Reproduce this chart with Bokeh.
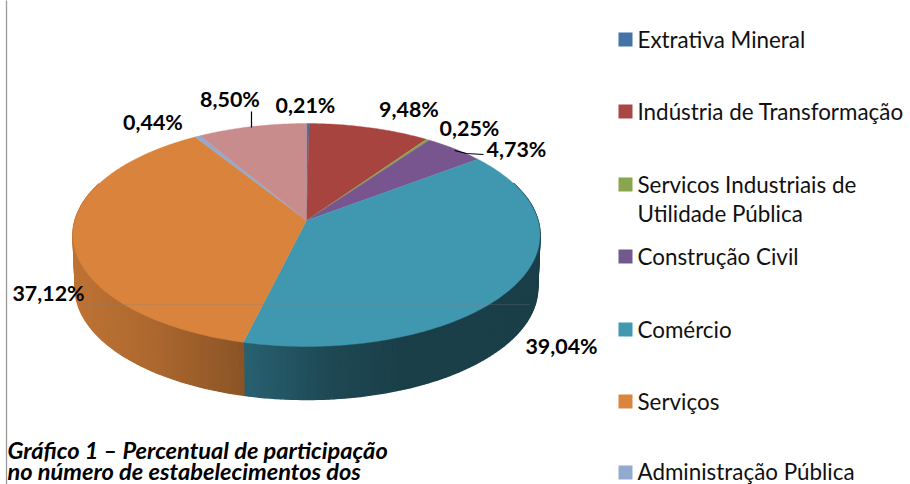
import numpy as np
from bokeh.plotting import figure
from bokeh.core.properties import value
from bokeh.embed import file_html
from bokeh.resources import INLINE

slice_values = [0.21, 9.48, 0.25, 4.73, 39.04, 37.12, 0.44, 8.50]
slice_colors = ["#4573A7", "#A8443F", "#89A54E", "#78558F", "#4098B0", "#D9833C", "#93A9CF", "#C98C8D"]
legend_names = ["Extrativa Mineral", "Indústria de Transformação", "Servicos Industriais de",
                "Construção Civil", "Comércio", "Serviços", "Administração Pública"]
legend_second_line = "Utilidade Pública"
legend_colors = ["#4573A7", "#AA4643", "#89A54E", "#71588F", "#4198AF", "#DB843D", "#93A9CF"]
caption = ["Gráfico 1 – Percentual de participação", "no número de estabelecimentos dos"]

FONT = "Lato"
CX, CY, KX, KY, P, DEPTH = 307.0, 221.0, 231.5, 109.6, 0.13, 53.0


def project(theta):
    X, Y = np.sin(theta), np.cos(theta)
    d = 1 + P * Y
    return CX + KX * X / d, CY - KY * Y / d


def to_rgb(h):
    return tuple(int(h[i:i + 2], 16) for i in (1, 3, 5))


p = figure(width=910, height=484, x_range=(1, 911), y_range=(485, 1),
           output_backend="svg", toolbar_location=None, min_border=0)
p.axis.visible = False
p.grid.visible = False
p.outline_line_color = None

total = sum(slice_values)
edges = np.concatenate([[0], np.cumsum(slice_values)]) / total * 2 * np.pi

# frame line
p.line([7, 7], [0, 486], line_color="#9A9A9A", line_width=1.3)

# side wall
sx, sy, sc = [], [], []
for i, c in enumerate(slice_colors):
    n = max(2, int((edges[i + 1] - edges[i]) / 0.02))
    th = np.linspace(edges[i], edges[i + 1], n)
    rgb = np.array(to_rgb(c))
    for a, b in zip(th[:-1], th[1:]):
        if np.cos((a + b) / 2) > 0.35:
            continue
        xa, ya = project(a)
        xb, yb = project(b)
        xa2, xb2 = CX + (xa - CX) * 0.99, CX + (xb - CX) * 0.99
        sx.append([xa, xb, xb2, xa2])
        sy.append([ya, yb, yb + DEPTH, ya + DEPTH])
        f = np.interp((xa + xb) / 2, [73, 150, 245, 330, 400, 540], [0.88, 0.8, 0.64, 0.48, 0.42, 0.42])
        r, g, bl = (rgb * f).astype(int)
        sc.append(f"#{r:02x}{g:02x}{bl:02x}")
p.patches(sx, sy, fill_color=sc, line_color=sc, line_width=1.5)

# top surface
tx, ty = [], []
for i in range(len(slice_values)):
    n = max(3, int((edges[i + 1] - edges[i]) / 0.01))
    th = np.linspace(edges[i], edges[i + 1], n)
    x, y = project(th)
    tx.append([CX] + list(x))
    ty.append([CY] + list(y))
p.patches(tx, ty, fill_color=slice_colors, line_color=slice_colors, line_width=0.4)

# faint horizontal line across pie
p.line([82, 530], [305, 305], line_color="#808080", line_alpha=0.25, line_width=1)

# leader lines
p.line([252, 252], [112, 128], line_color="#000000", line_width=1.2)
p.line([455, 467, 484], [151, 154, 155], line_color="#000000", line_width=1.2)

# data labels
label_x = [306, 409.5, 470, 517, 562, 49, 153.5, 230.5]
label_y = [105, 109, 128, 149, 346, 293, 122, 99]
labels = [f"{v:.2f}".replace(".", ",") + "%" for v in slice_values]
p.text(label_x, label_y, text=labels, text_font=value(FONT), text_font_style="bold",
       text_font_size="21.4px", text_color="#000000", text_align="center", text_baseline="middle")

# legend
leg_y = [40, 112, 185, 257, 330, 402, 473]
text_y = [40, 112, 185, 257, 330, 402, 471.5]
p.rect([626] * 7, leg_y, width=14, height=14, fill_color=legend_colors, line_color=None)
p.text([638] * 7, text_y, text=legend_names, text_font=value(FONT), text_font_size="22.4px",
       text_color="#111111", text_align="left", text_baseline="middle")
p.text([638], [214], text=[legend_second_line], text_font=value(FONT), text_font_size="22.4px",
       text_color="#111111", text_align="left", text_baseline="middle")

# caption
p.text([8, 8], [450, 471], text=caption, text_font=value(FONT), text_font_style="bold italic",
       text_font_size="23.6px", text_color="#000000", text_align="left", text_baseline="middle")

open("out.html", "w").write(file_html(p, INLINE))
